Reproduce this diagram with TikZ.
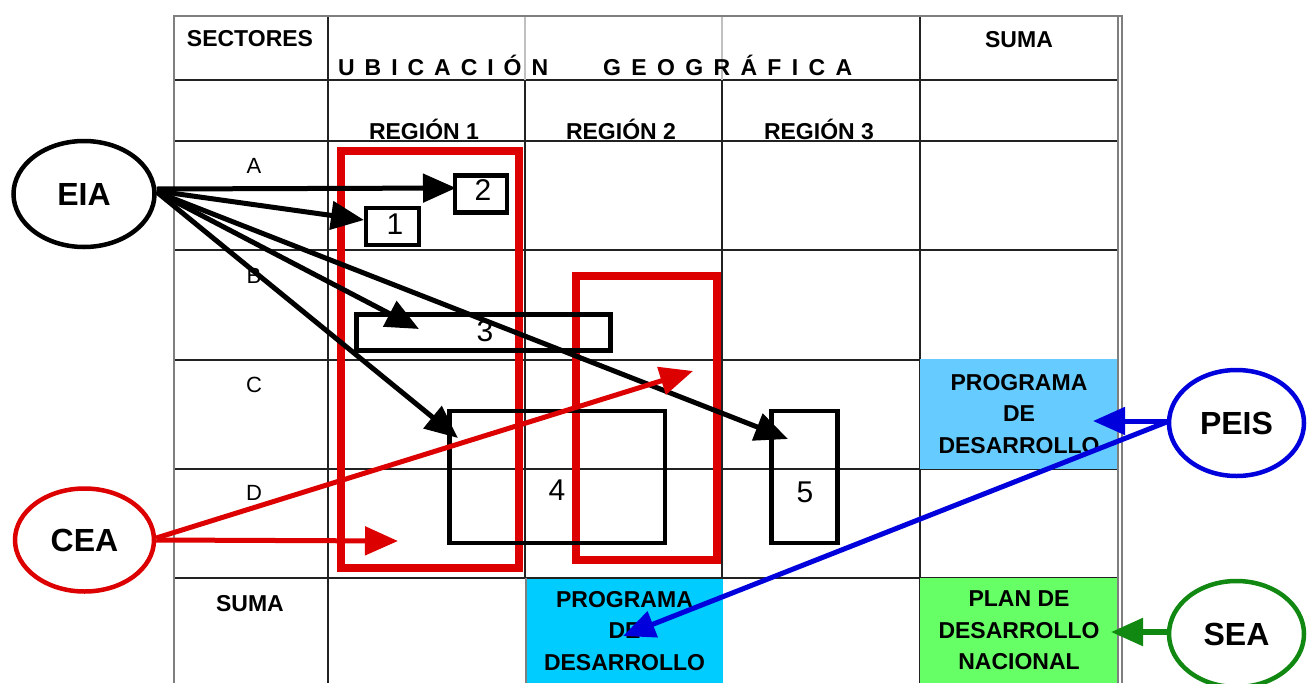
\documentclass[tikz,border=0pt]{standalone}
\usepackage{fontspec}
\setmainfont{Liberation Sans}
\usetikzlibrary{arrows.meta,shapes.geometric}
\definecolor{myred}{HTML}{DD0000}
\definecolor{myblue}{HTML}{0000DD}
\definecolor{mygreen}{HTML}{118811}
\definecolor{lblue}{HTML}{66CCFF}
\definecolor{cyanbox}{HTML}{00CCFF}
\definecolor{lgreen}{HTML}{66FF66}
\definecolor{gridgray}{HTML}{7F7F7F}
\definecolor{lightgrid}{HTML}{C0C0C0}
\definecolor{darkgrid}{HTML}{222222}
\begin{document}
\begin{tikzpicture}[x=1pt,y=-1pt,
  hdr/.style={font=\fontsize{23}{31.5}\selectfont\bfseries, inner sep=0pt, align=center},
  rowlbl/.style={font=\fontsize{22}{26}\selectfont, inner sep=0pt},
  ell/.style={ellipse, draw, line width=4.5pt, inner sep=0pt, fill=white,
    font=\fontsize{32}{36}\selectfont\bfseries},
  numbox/.style={draw, line width=4.5pt, inner sep=0pt},
  numtxt/.style={font=\fontsize{30}{32}\selectfont, inner sep=0pt},
  region/.style={draw=myred, line width=8pt},
  outer/.style={draw=gridgray, line width=2pt},
  inner/.style={draw=darkgrid, line width=1.2pt},
  faint/.style={draw=lightgrid, line width=1.2pt},
  fillbox/.style={inner sep=0pt, outer sep=0pt, align=center,
    font=\fontsize{23}{31.5}\selectfont\bfseries},
  blk/.style={draw=black, line width=5pt, -{Triangle[length=33pt,width=28pt]}},
  redarr/.style={draw=myred, line width=5pt, -{Triangle[length=33pt,width=28pt]}},
  bluearr/.style={draw=myblue, line width=5pt, -{Triangle[length=32pt,width=27pt]}},
  greenarr/.style={draw=mygreen, line width=5.5pt, -{Triangle[length=32pt,width=27pt]}}
]
\useasboundingbox (0,0) rectangle (1307,683);

% ---- table grid ----
\foreach \yy in {80,141,250,360,469,578}
  \draw[inner] (174,\yy) -- (1118,\yy);
\draw[inner] (328,16) -- (328,683);
\draw[faint] (525,16) -- (525,80);
\draw[faint] (722,16) -- (722,80);
\draw[inner] (525,80) -- (525,578);
\draw[inner] (722,80) -- (722,578);
\draw[inner] (920,16) -- (920,683);

% ---- coloured cells ----
\node[fillbox, fill=lblue, minimum width=198pt, minimum height=110pt] (prog1) at (1019,414)
  {PROGRAMA\\DE\\DESARROLLO};
\node[fillbox, fill=cyanbox, minimum width=197pt, minimum height=104pt] (prog2) at (624.5,631)
  {PROGRAMA\\DE\\DESARROLLO};
\node[fillbox, fill=lgreen, minimum width=198pt, minimum height=105pt] (plan) at (1019,630.5)
  {PLAN DE\\DESARROLLO\\NACIONAL};
\draw[draw=gridgray, line width=1.5pt] (526,578) -- (526,683);

% outer frame
\draw[outer] (174,683) -- (174,16) -- (1122,16) -- (1122,683);
\draw[outer] (1118,16) -- (1118,683);

% ---- header texts ----
\node[hdr] (sect) at (250,39) {SECTORES};
\node[hdr] (suma1) at (1019,40) {SUMA};
\node[hdr, anchor=base west] (ubic) at (338,75)
  {\makebox[210pt]{U\hfill B\hfill I\hfill C\hfill A\hfill C\hfill I\hfill Ó\hfill N}};
\node[hdr, anchor=base west] (geog) at (603,75)
  {\makebox[249pt]{G\hfill E\hfill O\hfill G\hfill R\hfill Á\hfill F\hfill I\hfill C\hfill A}};
\node[hdr] (r1) at (424,129) {REGIÓN 1};
\node[hdr] (r2) at (621,129) {REGIÓN 2};
\node[hdr] (r3) at (819,129) {REGIÓN 3};
\node[rowlbl] (la) at (254,166) {A};
\node[rowlbl] (lb) at (254,276) {B};
\node[rowlbl] (lc) at (254,385) {C};
\node[rowlbl] (ld) at (254,493) {D};
\node[hdr] (suma2) at (250,604) {SUMA};

% ---- regions (red) ----
\draw[region] (341,151) rectangle (519,567.5);
\draw[region] (576,276) rectangle (716.7,560);

% ---- numbered boxes ----
\node[numbox, minimum width=52pt, minimum height=37pt] (b2) at (481,194) {};
\node[numtxt] at (483,190) {2};
\node[numbox, minimum width=53pt, minimum height=37pt] (b1) at (392.5,226.7) {};
\node[numtxt] at (395,224) {1};
\node[numbox, minimum width=254pt, minimum height=36pt] (b3) at (483.6,332.6) {};
\node[numtxt] at (485,331) {3};
\node[numbox, minimum width=215.5pt, minimum height=131.7pt] (b4) at (557.3,476.9) {};
\node[numtxt] at (557,490) {4};
\node[numbox, minimum width=66pt, minimum height=131.7pt] (b5) at (804.6,476.9) {};
\node[numtxt] at (805,492) {5};

% ---- ellipses ----
\node[ell, minimum width=141pt, minimum height=106pt] (EIA) at (84,194) {EIA};
\node[ell, draw=myred, minimum width=139pt, minimum height=103pt] (CEA) at (84.5,540) {CEA};
\node[ell, draw=myblue, minimum width=135pt, minimum height=106pt] (PEIS) at (1236.5,423) {PEIS};
\node[ell, draw=mygreen, minimum width=135pt, minimum height=106pt] (SEA) at (1236.5,634) {SEA};

% ---- arrow targets ----
\coordinate (t2) at (456,188);
\coordinate (t1) at (364,220);
\coordinate (t3) at (419,329);
\coordinate (t4) at (458,438);
\coordinate (t5) at (788,439);
\coordinate (rc1) at (398,541);
\coordinate (rc2) at (693,371);
\coordinate (bp1) at (1093,421);
\coordinate (bp2) at (623,636);
\coordinate (gs) at (1111,632);

% ---- EIA arrows ----
\draw[blk] ([yshift=5pt]EIA.east) -- (t2);
\draw[blk] ([yshift=3pt]EIA.east) -- (t1);
\draw[blk] ([yshift=2pt]EIA.east) -- (t3);
\draw[blk] ([yshift=2pt]EIA.east) -- (t4);
\draw[blk] ([yshift=2pt]EIA.east) -- (t5);

% ---- CEA arrows ----
\draw[redarr] (CEA.east) -- (rc1);
\draw[redarr] ([yshift=2pt]CEA.east) -- (rc2);

% ---- PEIS arrows ----
\draw[bluearr] ([yshift=2pt]PEIS.west) -- (bp1);
\draw[bluearr] ([yshift=1pt]PEIS.west) -- (bp2);

% ---- SEA arrow ----
\draw[greenarr] ([yshift=2pt]SEA.west) -- (gs);
\end{tikzpicture}
\end{document}
